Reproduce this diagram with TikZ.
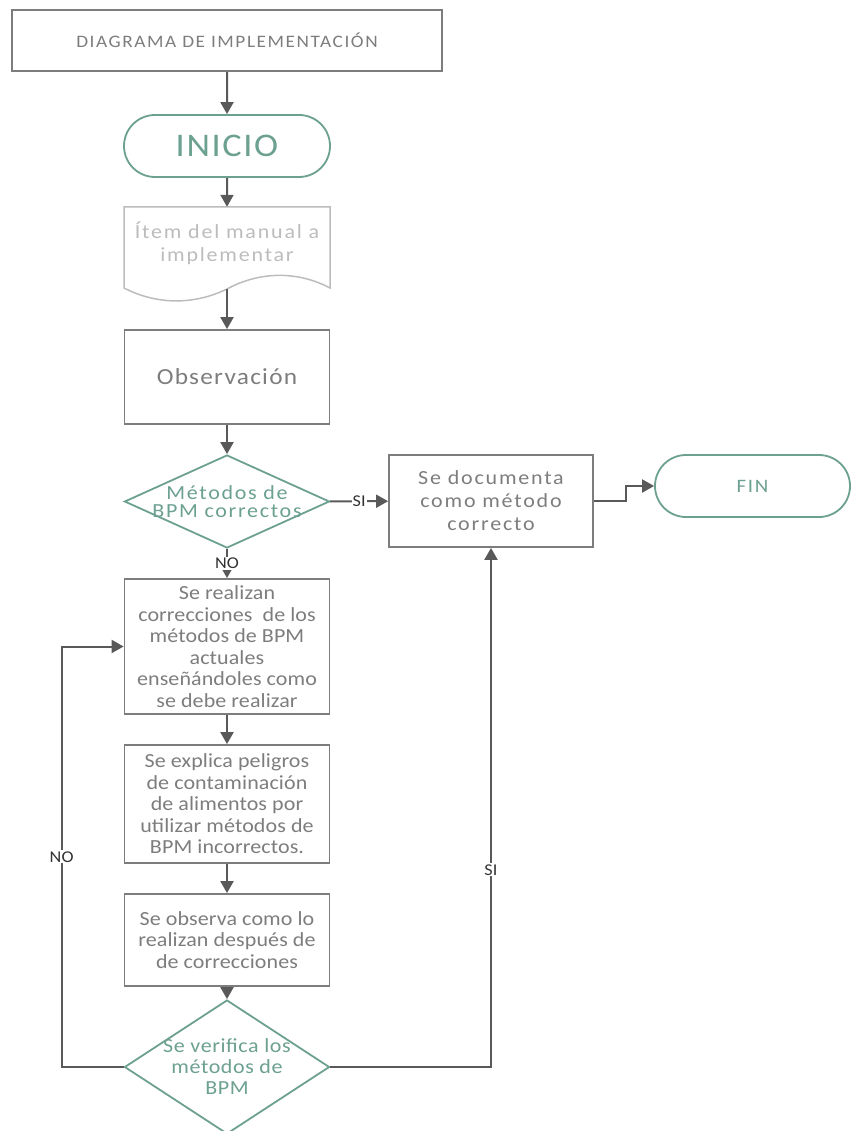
\documentclass[tikz,border=0pt]{standalone}
\usepackage{fontspec}
\setmainfont[FakeStretch=1.1]{Carlito}
\usetikzlibrary{arrows.meta,shapes.geometric,shapes.misc}
\definecolor{boxgray}{RGB}{125,125,125}
\definecolor{linegray}{RGB}{89,89,89}
\definecolor{docgray}{RGB}{188,188,188}
\definecolor{tealgreen}{RGB}{108,160,145}
\definecolor{labelgray}{RGB}{50,50,50}
\newcommand{\txt}[3]{\fontsize{#1}{#2}\selectfont\addfontfeature{LetterSpace=#3}}

\begin{document}
\begin{tikzpicture}[x=1pt,y=-1pt,
    proc/.style={rectangle, draw=boxgray, line width=1.8pt, text=boxgray, minimum width=205pt, align=center, inner sep=0pt, font=\txt{20}{21.5}{0.5}},
    term/.style={rounded rectangle, draw=tealgreen, line width=1.8pt, text=tealgreen, minimum height=62pt, inner sep=0pt},
    decide/.style={diamond, draw=tealgreen, line width=1.8pt, minimum width=205pt, inner sep=0pt},
    decidetext/.style={text=tealgreen, align=center, inner sep=0pt},
    flow/.style={draw=linegray, line width=2pt, -{Triangle[length=12pt,width=13pt]}},
    yesno/.style={fill=white, text=labelgray, inner sep=1pt, font=\txt{16.5}{18}{1}}]
    \useasboundingbox (0,0) rectangle (851,1131);

    % main column
    \node[proc, minimum width=430pt, minimum height=61pt, font=\txt{17.5}{20}{9}] (title) at (227,40.5) {DIAGRAMA DE IMPLEMENTACIÓN};
    \node[term, minimum width=206pt, font=\txt{33}{36}{5}] (start) at (227,146) {INICIO};

    \draw[docgray, line width=1.5pt] (124,207) -- (330,207) -- (330,288)
        .. controls (300,272) and (262,270) .. (227,289)
        .. controls (192,306) and (155,304) .. (124,288) -- cycle;
    \node[rectangle, minimum width=206pt, minimum height=73pt, inner sep=0pt, align=center, text=docgray, font=\txt{20}{23}{9}] (item) at (227,243.5) {Ítem del manual a\\implementar};
    \coordinate (itemwave) at (227,289);

    \node[proc, minimum height=94pt, font=\txt{23}{26}{5.5}] (obs) at (227,377) {Observación};
    \node[decide, minimum height=93pt, label={[decidetext, font=\txt{20}{18.5}{8.5}]center:{Métodos de\\BPM correctos}}] (check) at (227,501.5) {};

    \node[proc, minimum height=135pt] (fix) at (227,646.5) {Se realizan\\correcciones\ \ de los\\métodos de BPM\\actuales\\enseñándoles como\\se debe realizar};
    \node[proc, minimum height=118pt] (explain) at (227,804) {Se explica peligros\\de contaminación\\de alimentos por\\utilizar métodos de\\BPM incorrectos.};
    \node[proc, minimum height=92pt] (watch) at (227,940) {Se observa como lo\\realizan después de\\de correcciones};
    \node[decide, minimum height=134pt, label={[decidetext, font=\txt{20}{21}{3}]center:{Se verifica los\\métodos de\\BPM}}] (verify) at (227,1067) {};

    % right side
    \node[proc, minimum width=204pt, minimum height=92pt, font=\txt{20}{23}{9}] (record) at (491,501) {Se documenta\\como método\\correcto};
    \node[term, minimum width=195pt, font=\txt{19}{22}{9}] (finish) at (752.5,486) {FIN};

    % connectors
    \draw[flow] (title) -- (start);
    \draw[flow] (start) -- (item);
    \draw[flow] (itemwave) -- (obs);
    \draw[flow] (obs) -- (check);
    \draw[flow] (check) -- node[yesno] {SI} (record);
    \draw[flow] (check) -- node[yesno] {NO} (fix);
    \draw[flow] (fix) -- (explain);
    \draw[flow] (explain) -- (watch);
    \draw[flow] (watch) -- (verify);
    \draw[flow] (record.east) -- ++(32,0) |- (finish.west);
    \draw[flow] (verify.west) -- ++(-62,0) |- node[yesno, pos=0.25] {NO} (fix.west);
    \draw[flow] (verify.east) -| node[yesno, pos=0.69] {SI} (record.south);
\end{tikzpicture}
\end{document}
